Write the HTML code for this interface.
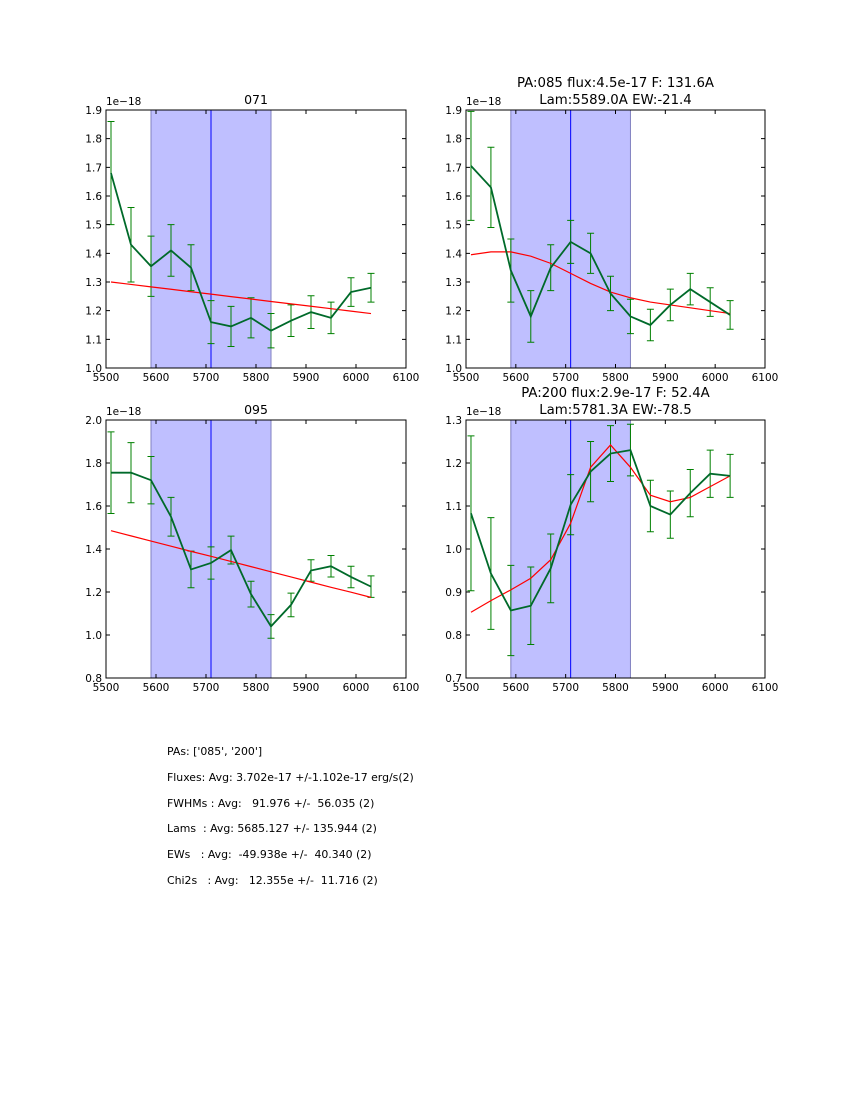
<!DOCTYPE html>
<html><head><meta charset="utf-8"><style>
body{margin:0;background:#fff;}
svg{display:block;font-family:"DejaVu Sans","Liberation Sans",sans-serif;}
</style></head><body>
<svg id="fig" width="850" height="1100" viewBox="0 0 850 1100" xmlns="http://www.w3.org/2000/svg">
<rect width="850" height="1100" fill="#fff"/>
<g font-size="10.9" fill="#000">
<text x="167" y="755" xml:space="preserve">PAs: ['085', '200']</text>
<text x="167" y="781" xml:space="preserve">Fluxes: Avg: 3.702e-17 +/-1.102e-17 erg/s(2)</text>
<text x="167" y="807" xml:space="preserve">FWHMs : Avg:   91.976 +/-  56.035 (2)</text>
<text x="167" y="832" xml:space="preserve">Lams  : Avg: 5685.127 +/- 135.944 (2)</text>
<text x="167" y="858" xml:space="preserve">EWs   : Avg:  -49.938e +/-  40.340 (2)</text>
<text x="167" y="884" xml:space="preserve">Chi2s   : Avg:   12.355e +/-  11.716 (2)</text>
</g>
</svg>
<script>
const wave=[5510,5550,5590,5630,5670,5710,5750,5790,5830,5870,5910,5950,5990,6030];
const xTicks=[5500,5600,5700,5800,5900,6000,6100];
const flux071=[1.68,1.43,1.355,1.41,1.35,1.16,1.145,1.175,1.13,1.165,1.195,1.175,1.265,1.28];
const err071=[0.18,0.13,0.105,0.09,0.08,0.075,0.07,0.07,0.06,0.055,0.057,0.055,0.05,0.05];
const fit071=[1.30,1.2915,1.283,1.2746,1.266,1.2577,1.249,1.2408,1.232,1.2238,1.2154,1.207,1.1985,1.19];
const flux085=[1.705,1.63,1.34,1.18,1.35,1.44,1.40,1.26,1.18,1.15,1.22,1.275,1.23,1.185];
const err085=[0.19,0.14,0.11,0.09,0.08,0.075,0.07,0.06,0.06,0.055,0.055,0.055,0.05,0.05];
const fit085=[1.395,1.405,1.405,1.39,1.365,1.33,1.295,1.265,1.245,1.23,1.22,1.21,1.20,1.19];
const flux095=[1.755,1.755,1.72,1.55,1.305,1.335,1.395,1.19,1.04,1.14,1.30,1.32,1.27,1.225];
const err095=[0.19,0.14,0.11,0.09,0.085,0.075,0.065,0.06,0.055,0.055,0.05,0.05,0.05,0.05];
const fit095=[1.485,1.461,1.437,1.413,1.389,1.366,1.342,1.318,1.294,1.27,1.246,1.222,1.199,1.175];
const flux200=[1.083,0.943,0.857,0.868,0.955,1.103,1.18,1.222,1.23,1.10,1.08,1.13,1.175,1.17];
const err200=[0.18,0.13,0.105,0.09,0.08,0.07,0.07,0.065,0.06,0.06,0.055,0.055,0.055,0.05];
const fit200=[0.853,0.88,0.905,0.932,0.975,1.06,1.19,1.242,1.19,1.125,1.11,1.12,1.145,1.17];
const yTicks071=[1.0,1.1,1.2,1.3,1.4,1.5,1.6,1.7,1.8,1.9];
const yTicks095=[0.8,1.0,1.2,1.4,1.6,1.8,2.0];
const yTicks200=[0.7,0.8,0.9,1.0,1.1,1.2,1.3];
const bandLo=5590, bandHi=5830, lineCen=5710;

const NS="http://www.w3.org/2000/svg";
const svg=document.getElementById('fig');
function mk(tag,attrs,parent){const e=document.createElementNS(NS,tag);for(const k in attrs)e.setAttribute(k,attrs[k]);parent.appendChild(e);return e;}

function panel(p){
  const g=mk('g',{},svg);
  
  
  const X=v=>p.x0+(v-5500)/600*(p.x1-p.x0);
  const Y=v=>p.y1-(v-p.ymin)/(p.ymax-p.ymin)*(p.y1-p.y0);
  const band=mk('rect',{x:X(bandLo),y:p.y0,width:X(bandHi)-X(bandLo),height:p.y1-p.y0,fill:'#bfbfff',stroke:'#8080c0','stroke-width':1},g);
  
  
  const vl=mk('line',{x1:X(lineCen),x2:X(lineCen),y1:p.y0,y2:p.y1,stroke:'#0000ff','stroke-width':1},g);
  
  
  p.flux.forEach((v,i)=>{
    const x=X(wave[i]),a=Y(v-p.err[i]),b=Y(v+p.err[i]);
    const eb=mk('path',{d:`M${x},${a}V${b}M${x-3.5},${a}H${x+3.5}M${x-3.5},${b}H${x+3.5}`,stroke:'#008000','stroke-width':1,fill:'none'},g);
    
    
  });
  const fl=mk('polyline',{points:p.fit.map((v,i)=>X(wave[i])+','+Y(v)).join(' '),fill:'none',stroke:'#ff0000','stroke-width':1.2},g);
  
  
  const dl=mk('polyline',{points:p.flux.map((v,i)=>X(wave[i])+','+Y(v)).join(' '),fill:'none',stroke:'#006a2a','stroke-width':1.8},g);
  
  
  const fr=mk('rect',{x:p.x0,y:p.y0,width:p.x1-p.x0,height:p.y1-p.y0,fill:'none',stroke:'#000','stroke-width':1},g);
  
  
  xTicks.forEach(t=>{
    const x=X(t);
    mk('path',{d:`M${x},${p.y1}v-4M${x},${p.y0}v4`,stroke:'#000'},g);
    const tx=mk('text',{x:x,y:p.y1+13,'font-size':10.5,'text-anchor':'middle'},g);
    tx.textContent=t;
    
    
  });
  p.yt.forEach(t=>{
    const y=Y(t);
    mk('path',{d:`M${p.x0},${y}h4M${p.x1},${y}h-4`,stroke:'#000'},g);
    const tx=mk('text',{x:p.x0-4,y:y+4,'font-size':10.5,'text-anchor':'end'},g);
    tx.textContent=t.toFixed(1);
    
    
  });
  const off=mk('text',{x:p.x0,y:p.y0-5,'font-size':10.5},g);
  off.textContent='1e\u221218';
  
  
  p.title.forEach((s,i)=>{
    const t=mk('text',{x:(p.x0+p.x1)/2,y:p.y0-6-(p.title.length-1-i)*17,'font-size':p.title.length>1?13.3:12.5,'text-anchor':'middle'},g);
    t.textContent=s;
    
    
  });
}
panel({name:'panel-071',x0:106,x1:406,y0:110,y1:368,ymin:1.0,ymax:1.9,yt:yTicks071,flux:flux071,err:err071,fit:fit071,title:['071']});
panel({name:'panel-085',x0:466,x1:765,y0:110,y1:368,ymin:1.0,ymax:1.9,yt:yTicks071,flux:flux085,err:err085,fit:fit085,title:['PA:085 flux:4.5e-17 F: 131.6A','Lam:5589.0A EW:-21.4']});
panel({name:'panel-095',x0:106,x1:406,y0:420,y1:678,ymin:0.8,ymax:2.0,yt:yTicks095,flux:flux095,err:err095,fit:fit095,title:['095']});
panel({name:'panel-200',x0:466,x1:765,y0:420,y1:678,ymin:0.7,ymax:1.3,yt:yTicks200,flux:flux200,err:err200,fit:fit200,title:['PA:200 flux:2.9e-17 F: 52.4A','Lam:5781.3A EW:-78.5']});
</script>
</body></html>
